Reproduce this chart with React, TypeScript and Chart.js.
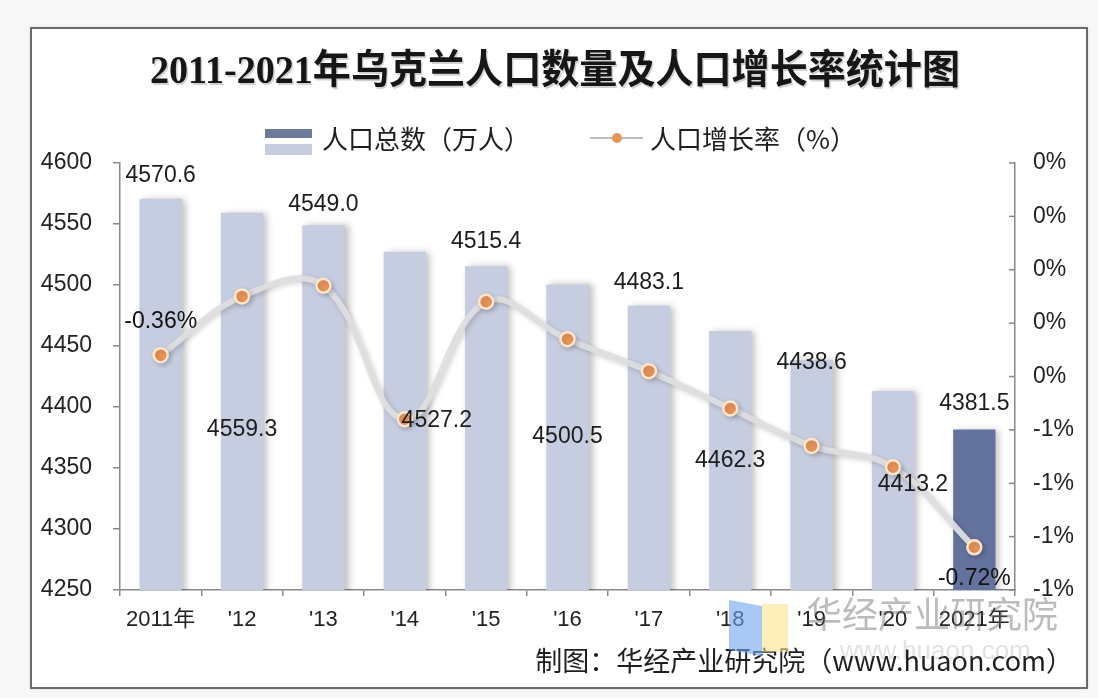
import React, { useEffect, useRef } from 'react';
import { Chart, registerables } from 'chart.js';

Chart.register(...registerables);

// ---- data ----
const years = ['2011年', "'12", "'13", "'14", "'15", "'16", "'17", "'18", "'19", "'20", '2021年'];
const population = [4570.6, 4559.3, 4549.0, 4527.2, 4515.4, 4500.5, 4483.1, 4462.3, 4438.6, 4413.2, 4381.5];
const growthRate = [-0.36, -0.25, -0.23, -0.48, -0.26, -0.33, -0.39, -0.46, -0.53, -0.57, -0.72];
const popAxisTicks = { min: 4250, max: 4600, step: 50 };
const rateAxisTicks = { min: -0.8, max: 0, step: 0.1 };

// label placement (pixel nudges relative to bar top / point), not data
const popLabelDx = [0, 0, 0, 32, 0, 0, 0, 0, 0, 20, 0];
const popLabelDy = [-23, 217, -21, 169, -25, 152, -23, 130, 3, 94, -26];
const rateLabelIdx = [0, 10];
const rateLabelDy = [-33, 31];

const TITLE = '2011-2021年乌克兰人口数量及人口增长率统计图';
const LEGEND_BAR = '人口总数（万人）';
const LEGEND_LINE = '人口增长率（%）';
const FOOTER = '制图：华经产业研究院（www.huaon.com）';
const WATERMARK = '华经产业研究院';

const LIGHT_BAR = '#c7cde0';
const DARK_BAR = '#64729e';
const POINT_FILL = '#e8955a';
const POINT_BORDER = '#fde6cc';
const NUM_FONT = '"Liberation Sans", Arial, "Noto Sans CJK SC", sans-serif';
const CJK_FONT = '"Noto Sans CJK SC", "Liberation Sans", sans-serif';

function fmtPct(v: number) {
  const r = Math.round(Math.abs(v) + 1e-9);
  return (r === 0 ? '0' : (v < 0 ? '-' : '') + r) + '%';
}

const framePlugin = {
  id: 'frame',
  beforeDraw(chart: any) {
    const ctx = chart.ctx as CanvasRenderingContext2D;
    ctx.save();
    ctx.fillStyle = '#f8f8f8';
    ctx.fillRect(0, 0, chart.width, chart.height);
    ctx.shadowColor = 'rgba(0,0,0,0.18)';
    ctx.shadowBlur = 4;
    ctx.fillStyle = '#ffffff';
    ctx.fillRect(31, 28, 1056, 660);
    ctx.shadowColor = 'transparent';
    ctx.strokeStyle = '#6a6a6a';
    ctx.lineWidth = 2;
    ctx.strokeRect(31, 28, 1056, 660);

    // title
    ctx.font = 'bold 40px "Liberation Serif", "Noto Sans CJK SC", serif';
    const m = ctx.measureText(TITLE).width;
    ctx.save();
    ctx.translate(555, 73);
    ctx.scale(810 / m, 1);
    ctx.textAlign = 'center';
    ctx.textBaseline = 'middle';
    ctx.fillStyle = 'rgba(0,0,0,0.18)';
    ctx.fillText(TITLE, 1.5, 1.5);
    ctx.fillStyle = '#161616';
    ctx.fillText(TITLE, 0, 0);
    ctx.restore();

    // legend
    ctx.fillStyle = '#6d7a99';
    ctx.fillRect(265, 129, 47, 9);
    ctx.fillStyle = '#c8ccdc';
    ctx.fillRect(265, 144, 47, 11);
    ctx.font = '26px ' + CJK_FONT;
    ctx.fillStyle = '#1e1e1e';
    ctx.textAlign = 'left';
    ctx.textBaseline = 'middle';
    ctx.fillText(LEGEND_BAR, 322, 139);
    ctx.strokeStyle = '#bdbdbd';
    ctx.lineWidth = 2;
    ctx.beginPath();
    ctx.moveTo(590, 138);
    ctx.lineTo(643, 138);
    ctx.stroke();
    ctx.beginPath();
    ctx.arc(617, 138, 5, 0, Math.PI * 2);
    ctx.fillStyle = POINT_FILL;
    ctx.fill();
    ctx.fillStyle = '#1e1e1e';
    ctx.fillText(LEGEND_LINE, 650, 139);
    ctx.restore();
  },
  beforeDatasetDraw(chart: any, args: any) {
    const ctx = chart.ctx as CanvasRenderingContext2D;
    ctx.save();
    if (args.index === 0) {
      ctx.shadowColor = 'rgba(0,0,0,0.25)';
      ctx.shadowBlur = 7;
      ctx.shadowOffsetX = 4;
      ctx.shadowOffsetY = 0;
    } else {
      ctx.shadowColor = 'rgba(0,0,0,0.18)';
      ctx.shadowBlur = 5;
      ctx.shadowOffsetX = 2;
      ctx.shadowOffsetY = 2;
    }
  },
  afterDatasetDraw(chart: any) {
    chart.ctx.restore();
  },
  afterDraw(chart: any) {
    const ctx = chart.ctx as CanvasRenderingContext2D;
    const y1 = chart.scales.y1;
    const barMeta = chart.getDatasetMeta(0);
    const lineMeta = chart.getDatasetMeta(1);
    ctx.save();
    // inward ticks on right axis
    ctx.strokeStyle = '#888';
    ctx.lineWidth = 1.5;
    y1.ticks.forEach((t: any) => {
      const py = y1.getPixelForValue(t.value);
      ctx.beginPath();
      ctx.moveTo(y1.left - 6, py);
      ctx.lineTo(y1.left, py);
      ctx.stroke();
    });

    // population labels
    ctx.font = '23px ' + NUM_FONT;
    ctx.fillStyle = '#1c1c1c';
    ctx.textAlign = 'center';
    ctx.textBaseline = 'middle';
    barMeta.data.forEach((el: any, i: number) => {
      ctx.fillText(population[i].toFixed(1), el.x + popLabelDx[i], el.y + popLabelDy[i]);
    });
    // rate labels
    ctx.fillStyle = '#111';
    rateLabelIdx.forEach((idx, k) => {
      const el = lineMeta.data[idx];
      ctx.fillText(growthRate[idx].toFixed(2) + '%', el.x, el.y + rateLabelDy[k]);
    });

    // footer
    ctx.font = '27px ' + CJK_FONT;
    ctx.fillStyle = '#1e1e1e';
    ctx.textAlign = 'right';
    ctx.fillText(FOOTER, 1073, 661);

    // watermark logo + text
    ctx.fillStyle = 'rgba(110,165,235,0.6)';
    ctx.beginPath();
    ctx.moveTo(729, 600);
    ctx.lineTo(762, 606);
    ctx.lineTo(762, 656);
    ctx.lineTo(729, 650);
    ctx.closePath();
    ctx.fill();
    ctx.fillStyle = 'rgba(250,228,140,0.6)';
    ctx.fillRect(762, 604, 26, 48);
    ctx.font = '36px ' + CJK_FONT;
    ctx.fillStyle = 'rgba(105,105,105,0.45)';
    ctx.textAlign = 'left';
    ctx.fillText(WATERMARK, 806, 614);
    ctx.font = '26px ' + NUM_FONT;
    ctx.fillStyle = 'rgba(140,140,140,0.25)';
    ctx.fillText('www.huaon.com', 840, 652);
    ctx.restore();
  },
};

export default function App() {
  const ref = useRef<HTMLCanvasElement>(null);
  useEffect(() => {
    document.body.style.margin = '0';
    const canvas = ref.current!;
    const chart = new Chart(canvas, {
      type: 'bar',
      data: {
        labels: years,
        datasets: [
          {
            type: 'bar',
            label: '人口总数（万人）',
            data: population,
            yAxisID: 'y',
            backgroundColor: population.map((_, i) => (i === population.length - 1 ? DARK_BAR : LIGHT_BAR)),
            barPercentage: 0.52,
            categoryPercentage: 1,
            order: 1,
          },
          {
            type: 'line',
            label: '人口增长率（%）',
            data: growthRate,
            yAxisID: 'y1',
            borderColor: 'rgba(222,222,226,0.95)',
            borderWidth: 6,
            tension: 0.4,
            pointRadius: 7,
            pointBackgroundColor: POINT_FILL,
            pointBorderColor: POINT_BORDER,
            pointBorderWidth: 2.5,
            order: 0,
          } as any,
        ],
      },
      options: {
        responsive: false,
        animation: false,
        devicePixelRatio: 1,
        layout: { padding: { top: 163, left: 0, right: 0, bottom: 0 } },
        plugins: {
          legend: { display: false },
          title: { display: false },
          tooltip: { enabled: false },
        },
        scales: {
          x: {
            grid: { drawOnChartArea: false, drawTicks: true, tickLength: 6, color: '#888', lineWidth: 1.5, offset: true },
            border: { color: '#888', width: 1.5 },
            ticks: { color: '#222', font: { size: 22, family: NUM_FONT }, padding: 11, maxRotation: 0, autoSkip: false },
            afterFit: (s: any) => { s.height = 108; },
          },
          y: {
            position: 'left',
            min: popAxisTicks.min,
            max: popAxisTicks.max,
            grid: { drawOnChartArea: false, drawTicks: true, tickLength: 7, color: '#888', lineWidth: 1.5 },
            border: { color: '#888', width: 1.5 },
            ticks: { stepSize: popAxisTicks.step, color: '#222', font: { size: 23, family: NUM_FONT }, padding: 21, callback: (v: any) => String(v) },
            afterFit: (s: any) => { s.width = 120; },
          },
          y1: {
            position: 'right',
            min: rateAxisTicks.min,
            max: rateAxisTicks.max,
            grid: { drawOnChartArea: false, drawTicks: false },
            border: { color: '#888', width: 1.5 },
            ticks: { stepSize: rateAxisTicks.step, color: '#222', font: { size: 23, family: NUM_FONT }, padding: 18, callback: (v: any) => fmtPct(Number(v)) },
            afterFit: (s: any) => { s.width = 83; },
          },
        },
      },
      plugins: [framePlugin],
    });
    return () => chart.destroy();
  }, []);
  return (
    <div style={{ position: 'absolute', left: 0, top: 0, width: 1098, height: 698 }}>
      <canvas ref={ref} width={1098} height={698} style={{ width: 1098, height: 698, display: 'block' }} />
    </div>
  );
}
